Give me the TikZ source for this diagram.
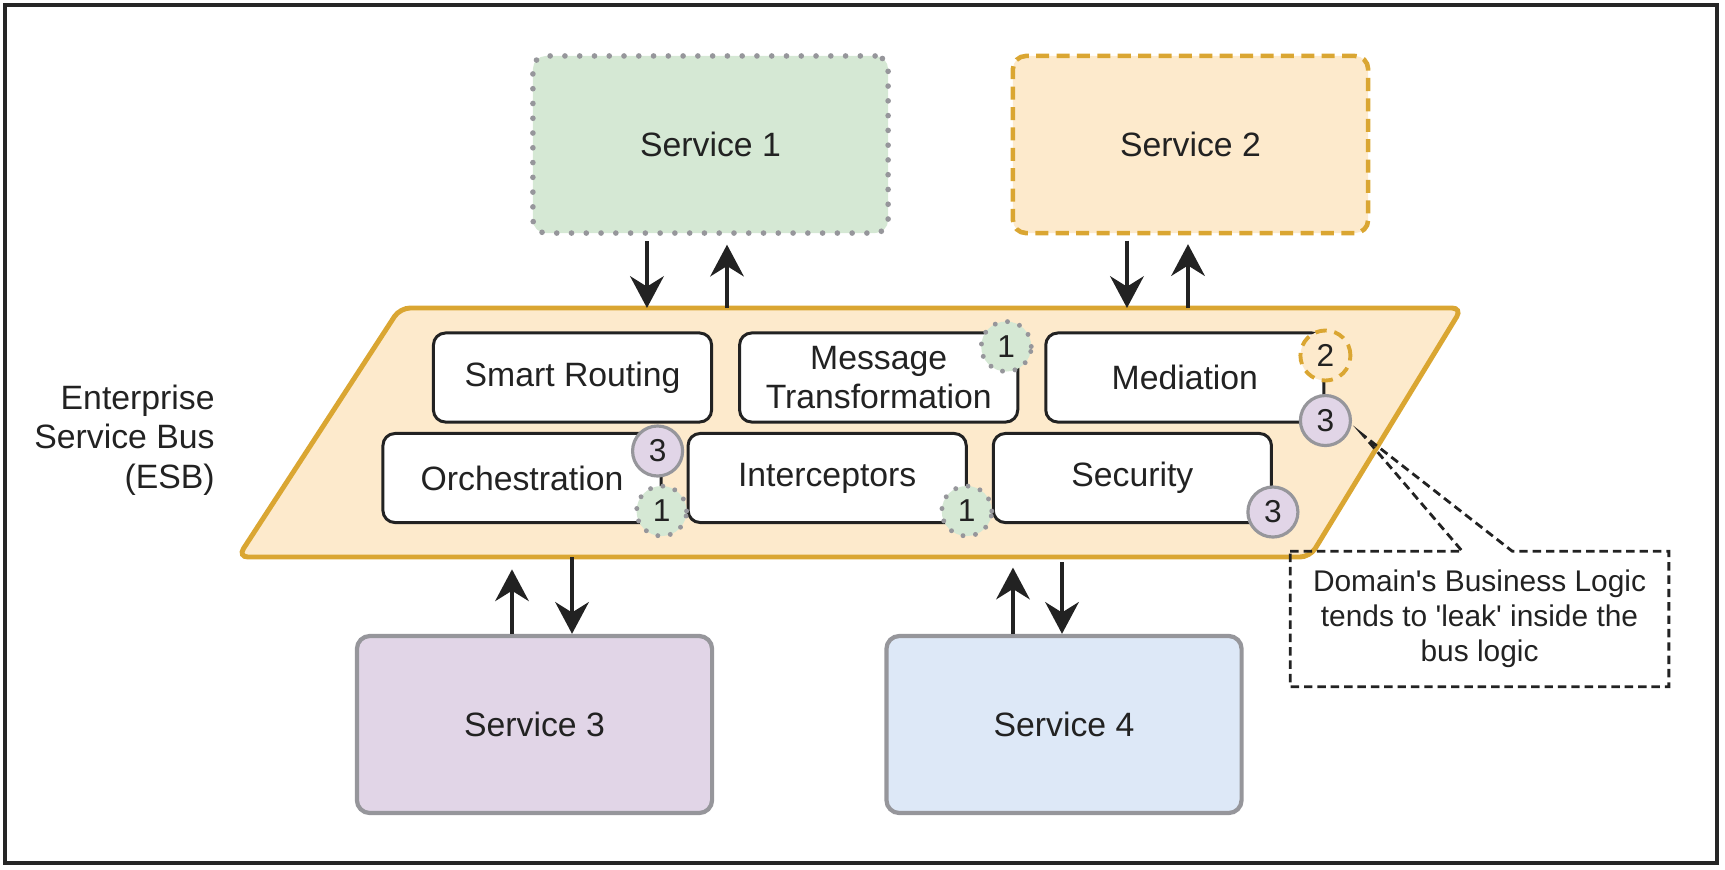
\documentclass[tikz,border=0pt]{standalone}
\usepackage{fontspec}
\setmainfont{Liberation Sans}
\usepackage{tikz}
\usetikzlibrary{positioning, arrows.meta}

\definecolor{greenfill}{HTML}{D5E8D4}
\definecolor{orangefill}{HTML}{FDEACC}
\definecolor{goldline}{HTML}{DAA632}
\definecolor{purplefill}{HTML}{E1D5E7}
\definecolor{bluefill}{HTML}{DDE8F7}
\definecolor{greyline}{HTML}{96969B}
\definecolor{inkgrey}{HTML}{222222}

\begin{document}
\begin{tikzpicture}[
        x=0.01cm, y=-0.01cm, % one unit = one pixel of the drawing
        every node/.style={font=\fontsize{9.6}{11.2}\selectfont, align=center, text=inkgrey}, % Node style
        service/.style={draw, rounded corners=0.13cm, minimum width=3.55cm, minimum height=1.77cm},
        block/.style={draw=inkgrey, fill=white, rounded corners=0.12cm, minimum width=2.78cm, minimum height=0.89cm, line width=0.85pt},
        badge/.style={circle, minimum size=0.5cm, inner sep=0pt, font=\fontsize{9}{10}\selectfont},
        greenbadge/.style={badge, fill=greenfill, draw=greyline, line width=1.4pt, line cap=round, dash pattern=on 0pt off 3.6pt},
        purplebadge/.style={badge, fill=purplefill, draw=greyline, line width=0.9pt},
        goldbadge/.style={badge, fill=orangefill, draw=goldline, line width=1.1pt, dash pattern=on 3.2pt off 2.2pt},
        arrow/.style={-{Stealth[length=9pt, width=9.5pt]}, line width=1.35pt, draw=inkgrey} % Arrow style
    ]

    \useasboundingbox (0,0) rectangle (1725,869);
    \draw[line width=0.9pt, black!85] (5,5) rectangle (1717,863);

    % Services
    \node (s1) [service, fill=greenfill, draw=greyline, line width=1.6pt, line cap=round, dash pattern=on 0pt off 4.2pt] at (710.5,144.5) {Service 1};
    \node (s2) [service, fill=orangefill, draw=goldline, line width=1.3pt, dash pattern=on 3.7pt off 2.1pt] at (1190.5,144.5) {Service 2};
    \node (s3) [service, fill=purplefill, draw=greyline, line width=1.2pt] at (534.5,724.5) {Service 3};
    \node (s4) [service, fill=bluefill, draw=greyline, line width=1.2pt] at (1064,724.5) {Service 4};

    % Bus
    \coordinate (bus nw) at (400,308);
    \coordinate (bus ne) at (1462,308);
    \coordinate (bus se) at (1310,557);
    \coordinate (bus sw) at (238,557);
    \draw[fill=orangefill, draw=goldline, line width=1.4pt, rounded corners=0.1cm] (bus nw) -- (bus ne) -- (bus se) -- (bus sw) -- cycle;
    \node (esb) [anchor=east, align=right] at (227,440) {Enterprise\\Service Bus\\(ESB)};

    % Bus functions
    \node (route) [block] at (572.5,377.5) {Smart Routing};
    \node (msg) [block, right=0.25cm of route] {Message\\Transformation};
    \node (med) [block, right=0.25cm of msg] {Mediation};
    \node (orch) [block] at (522,478) {Orchestration};
    \node (inter) [block, right=0.24cm of orch] {Interceptors};
    \node (sec) [block, right=0.24cm of inter] {Security};

    % Badges
    \node (msg1) [greenbadge] at ([xshift=-0.13cm, yshift=-0.15cm]msg.north east) {1};
    \node (med2) [goldbadge] at ([yshift=-0.24cm]med.north east) {2};
    \node (med3) [purplebadge] at ([yshift=0.03cm]med.south east) {3};
    \node (orch3) [purplebadge] at ([xshift=-0.05cm, yshift=-0.19cm]orch.north east) {3};
    \node (orch1) [greenbadge] at ([xshift=-0.01cm, yshift=0.13cm]orch.south east) {1};
    \node (inter1) [greenbadge] at ([xshift=-0.01cm, yshift=0.13cm]inter.south east) {1};
    \node (sec3) [purplebadge] at ([yshift=0.12cm]sec.south east) {3};

    % Service to bus connections
    \draw[arrow, shorten <=1.5pt] ([xshift=-0.635cm]s1.south) -- ([xshift=-0.635cm]s1.south |- bus nw);
    \draw[arrow, shorten >=2.5pt] ([xshift=0.165cm]s1.south |- bus nw) -- ([xshift=0.165cm]s1.south);
    \draw[arrow, shorten <=1.5pt] ([xshift=-0.635cm]s2.south) -- ([xshift=-0.635cm]s2.south |- bus nw);
    \draw[arrow, shorten >=2.5pt] ([xshift=-0.025cm]s2.south |- bus nw) -- ([xshift=-0.025cm]s2.south);

    % Bus to service connections
    \draw[arrow, shorten >=3.5pt] ([xshift=-0.225cm]s3.north) -- ([xshift=-0.225cm]s3.north |- bus sw);
    \draw[arrow] ([xshift=0.375cm]s3.north |- bus sw) -- ([xshift=0.375cm]s3.north);
    \draw[arrow, shorten >=3pt] ([xshift=-0.51cm]s4.north) -- ([xshift=-0.51cm]s4.north |- bus sw);
    \draw[arrow, shorten <=1.5pt] ([xshift=-0.02cm]s4.north |- bus sw) -- ([xshift=-0.02cm]s4.north);

    % Callout
    \node (note) [minimum width=3.77cm, minimum height=1.34cm, font=\fontsize{8.5}{10}\selectfont] at (1479.5,619) {Domain\textquotesingle s Business Logic\\tends to \textquotesingle leak\textquotesingle{} inside the\\bus logic};
    \coordinate (leak) at (1363,435);
    \draw[inkgrey, line width=0.8pt, dash pattern=on 2.4pt off 1.4pt] (note.north west) -- ([xshift=1.72cm]note.north west) -- (leak) -- ([xshift=2.22cm]note.north west) -- (note.north east) -- (note.south east) -- (note.south west) -- cycle;

\end{tikzpicture}
\end{document}
